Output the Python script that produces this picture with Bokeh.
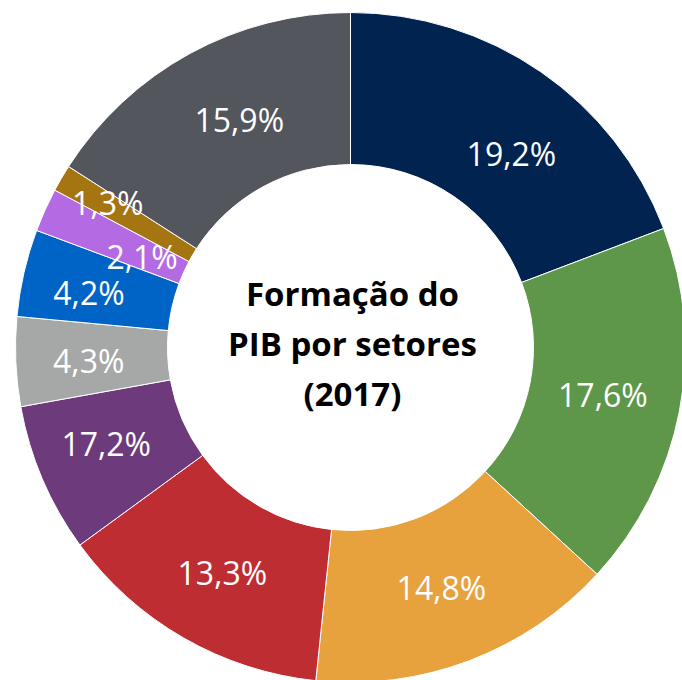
import numpy as np
from bokeh.plotting import figure
from bokeh.models import Range1d, ColumnDataSource
from bokeh.core.properties import value
from bokeh.embed import file_html
from bokeh.resources import INLINE

# data
sectors = ["s1", "s2", "s3", "s4", "s5", "s6", "s7", "s8", "s9", "s10"]
values = [19.2, 17.6, 14.8, 13.3, 7.2, 4.3, 4.2, 2.1, 1.3, 15.9]
labels = ["19,2%", "17,6%", "14,8%", "13,3%", "17,2%", "4,3%", "4,2%", "2,1%", "1,3%", "15,9%"]
colors = ["#00234F", "#5E9749", "#E8A23D", "#BE2D32", "#6D3B7B",
          "#A6A8A7", "#0064C6", "#B46AE2", "#A57512", "#53565D"]
title_text = "Formação do\nPIB por setores\n(2017)"

# styling / layout (not data)
W, H = 682, 680
cx, cy = 350, H - 347
r_in, r_out = 183, 335
r_lab = 257
lab_dx = [15, 0, 0, 0, -8, -5, -11, 26, -21, 12]
lab_dy = [18, -2, 0, 2, -5, 2, 2, 14, -15, -2]

vals = np.array(values, dtype=float)
tot = vals.sum()
cum = np.cumsum(vals)
before = cum - vals
start = np.pi / 2 - 2 * np.pi * before / tot
end = np.pi / 2 - 2 * np.pi * cum / tot
mid = (start + end) / 2

src = ColumnDataSource(dict(
    start=start, end=end, color=colors, label=labels,
    lx=cx + r_lab * np.cos(mid), ly=cy + r_lab * np.sin(mid),
    dx=lab_dx, dy=lab_dy,
))

p = figure(width=W, height=H, x_range=Range1d(0, W), y_range=Range1d(0, H),
           output_backend="svg", toolbar_location=None, min_border=0,
           outline_line_color=None, background_fill_color="white")
p.axis.visible = False
p.grid.visible = False

p.annular_wedge(x=cx, y=cy, inner_radius=r_in, outer_radius=r_out,
                start_angle="start", end_angle="end", direction="clock",
                fill_color="color", line_color="white", line_width=1, source=src)

p.text(x="lx", y="ly", text="label", x_offset="dx", y_offset="dy", source=src,
       text_color="white", text_font=value("Open Sans"), text_font_size="32px",
       text_align="center", text_baseline="middle")

p.text(x=[cx + 2], y=[H - 343], text=[title_text], text_color="black",
       text_font=value("Open Sans"), text_font_style="bold", text_font_size="33px",
       text_align="center", text_baseline="middle", text_line_height=1.12)

open("out.html", "w").write(file_html(p, INLINE))
